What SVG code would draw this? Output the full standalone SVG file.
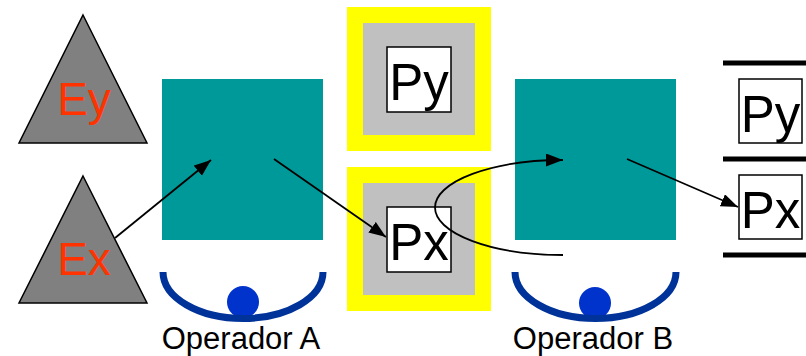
<svg xmlns="http://www.w3.org/2000/svg" width="806" height="356" viewBox="0 0 806 356">
<defs>
<style>
.tri{fill:#808080;stroke:#000;stroke-width:1.5;}
.etxt{font-family:"Liberation Sans",Arial,sans-serif;font-size:46px;fill:#ff3300;text-anchor:middle;}
.ptxt{font-family:"Liberation Sans",Arial,sans-serif;font-size:51px;fill:#000;text-anchor:middle;}
.otxt{font-family:"Liberation Sans",Arial,sans-serif;font-size:31px;fill:#000;text-anchor:middle;}
.teal{fill:#009999;}
.yel{fill:#ffff00;}
.gry{fill:#c0c0c0;}
.box{fill:#fff;stroke:#000;stroke-width:1.5;}
.arc{fill:none;stroke:#003399;stroke-width:7;}
.ball{fill:#0033cc;}
.bar{stroke:#000;stroke-width:5;}
.conn{fill:none;stroke:#000;stroke-width:1.8;}
</style>
<marker id="ah" markerUnits="userSpaceOnUse" markerWidth="18" markerHeight="14" refX="17" refY="6.5" orient="auto">
<path d="M0,0 L17,6.5 L0,13 z" fill="#000"/>
</marker>
</defs>
<rect width="806" height="356" fill="#fff"/>

<g id="Ey">
<polygon class="tri" points="83,15 147,143 19,143"/>
<text class="etxt" x="84" y="115">Ey</text>
</g>
<g id="Ex">
<polygon class="tri" points="83,176 147,303 19,303"/>
<text class="etxt" x="84" y="275">Ex</text>
</g>

<g id="OperatorA-box">
<rect class="teal" x="162" y="79" width="161" height="161"/>
</g>
<g id="OperadorA">
<circle class="ball" cx="243" cy="302" r="16"/>
<path class="arc" d="M163,272 A80,46.5 0 0 0 323,272"/>
<text class="otxt" x="241" y="349">Operador A</text>
</g>

<g id="Py-state">
<rect class="yel" x="347" y="7" width="144" height="144"/>
<rect class="gry" x="363" y="23" width="112" height="112"/>
<rect class="box" x="387" y="47" width="64" height="65"/>
<text class="ptxt" x="419" y="100">Py</text>
</g>
<g id="Px-state">
<rect class="yel" x="347" y="167" width="144" height="144"/>
<rect class="gry" x="363" y="183" width="112" height="112"/>
<rect class="box" x="387" y="207" width="64" height="65"/>
<text class="ptxt" x="419" y="260">Px</text>
</g>

<g id="OperatorB-box">
<rect class="teal" x="515" y="79" width="161" height="161"/>
</g>
<g id="OperadorB">
<circle class="ball" cx="595" cy="303" r="16"/>
<path class="arc" d="M515,272 A80.5,46.5 0 0 0 676,272"/>
<text class="otxt" x="593" y="349">Operador B</text>
</g>

<g id="Output">
<line class="bar" x1="723" y1="63" x2="806" y2="63"/>
<rect class="box" x="739" y="79" width="63" height="64"/>
<text class="ptxt" x="770.5" y="132">Py</text>
<line class="bar" x1="723" y1="159" x2="806" y2="159"/>
<rect class="box" x="739" y="175" width="63" height="64"/>
<text class="ptxt" x="770.5" y="228">Px</text>
<line class="bar" x1="723" y1="255" x2="806" y2="255"/>
</g>

<g id="connectors">
<line class="conn" x1="115" y1="238" x2="211" y2="160" marker-end="url(#ah)"/>
<line class="conn" x1="274" y1="159" x2="386" y2="237" marker-end="url(#ah)"/>
<path class="conn" d="M563,255 A128,47.5 0 0 1 563,160" marker-end="url(#ah)"/>
<line class="conn" x1="627" y1="159" x2="738" y2="207" marker-end="url(#ah)"/>
</g>
</svg>
